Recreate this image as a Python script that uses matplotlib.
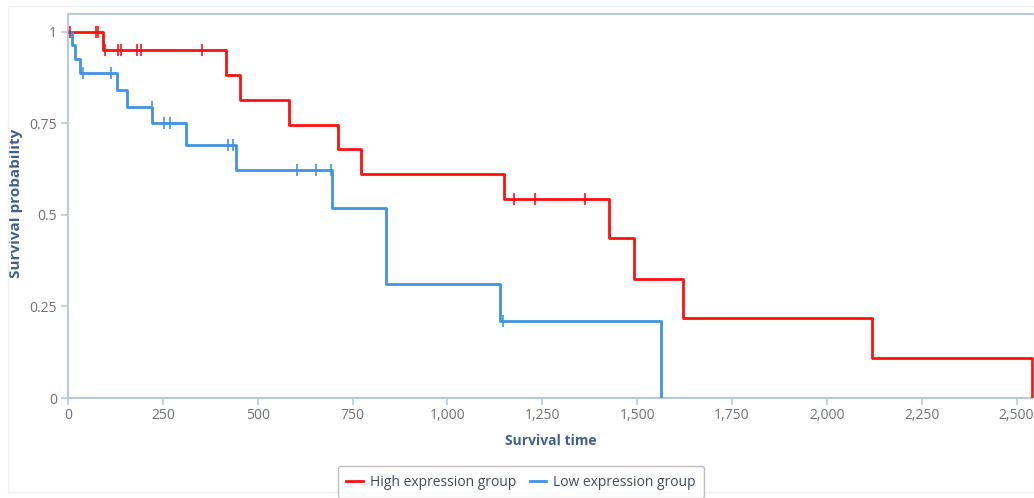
import numpy as np
import matplotlib
matplotlib.use("Agg")
import matplotlib.pyplot as plt
from matplotlib.ticker import FuncFormatter, FixedLocator
from matplotlib.patches import Rectangle

plt.rcParams['font.family'] = ['Open Sans', 'DejaVu Sans']

# ---- data ----
high_times = [0, 93, 416, 453, 582, 711, 772, 1150, 1425, 1491, 1620, 2118, 2540]
high_surv = [1.0, 0.951, 0.883, 0.814, 0.746, 0.680, 0.612, 0.544, 0.437, 0.325, 0.219, 0.109, 0.0]
high_censor = [5, 74, 80, 98, 132, 140, 182, 193, 354, 1175, 1232, 1362]

low_times = [0, 10, 18, 32, 128, 155, 222, 310, 442, 697, 838, 1138, 1562]
low_surv = [1.0, 0.963, 0.926, 0.889, 0.842, 0.795, 0.751, 0.691, 0.623, 0.52, 0.311, 0.21, 0.0]
low_censor = [39, 114, 221, 253, 269, 422, 435, 603, 653, 693, 1146]

x_ticks = [0, 250, 500, 750, 1000, 1250, 1500, 1750, 2000, 2250, 2500]
y_ticks = [0, 0.25, 0.5, 0.75, 1]
labels = ["High expression group", "Low expression group"]
colors = ["#ff1010", "#3f93e4"]

W, H = 1034, 498
fig = plt.figure(figsize=(W / 100, H / 100), dpi=100)
fig.patches.append(Rectangle((8 / W, 6 / H), (W - 8) / W, (H - 12) / H,
                             transform=fig.transFigure, fill=False,
                             edgecolor="#f0f0f0", linewidth=1))
ax = fig.add_axes([68 / W, 1 - 398 / H, (W - 68) / W, (398 - 14) / H])

def step_value(times, surv, t):
    i = np.searchsorted(times, t, side="right") - 1
    return surv[i]

handles = []
for times, surv, cens, col, lab in [(high_times, high_surv, high_censor, colors[0], labels[0]),
                                    (low_times, low_surv, low_censor, colors[1], labels[1])]:
    h, = ax.step(times, surv, where="post", color=col, linewidth=2, label=lab, zorder=3)
    handles.append(h)
    cy = [step_value(np.array(times), np.array(surv), t) for t in cens]
    ax.plot(cens, cy, linestyle="none", marker="|", markersize=8, markeredgewidth=1.2,
            color=col, zorder=4)

ax.set_xlim(0, 2546)
ax.set_ylim(0, 1.049)
ax.xaxis.set_major_locator(FixedLocator(x_ticks))
ax.yaxis.set_major_locator(FixedLocator(y_ticks))
ax.xaxis.set_major_formatter(FuncFormatter(lambda v, p: f"{int(v):,}"))
ax.yaxis.set_major_formatter(FuncFormatter(lambda v, p: f"{v:g}"))

spine_col = "#b7c9df"
for s in ["left", "bottom", "top"]:
    ax.spines[s].set_color(spine_col)
    ax.spines[s].set_linewidth(1.5)
ax.spines["right"].set_visible(False)
ax.tick_params(axis="both", colors=spine_col, length=5, width=1.2,
               labelcolor="#707070", labelsize=10)
ax.tick_params(axis="x", pad=2)
ax.tick_params(axis="y", pad=3)

ax.set_xlabel("Survival time", fontsize=10, fontweight="bold", color="#3e5f8a", labelpad=8)
ax.set_ylabel("Survival probability", fontsize=11, fontweight="bold", color="#3e5f8a")
ax.yaxis.set_label_coords(-45 / (W - 68), (398 - 203) / (398 - 14))

leg = fig.legend(handles=handles, labels=labels, loc="center",
                 bbox_to_anchor=(521 / W, 1 - 482 / H), ncol=2, frameon=True,
                 fontsize=10, handlelength=1.2, handletextpad=0.5, columnspacing=1.0,
                 borderpad=0.6, fancybox=True)
leg.get_frame().set_edgecolor("#b0b0b0")
leg.get_frame().set_linewidth(1)
for t in leg.get_texts():
    t.set_color("#404a5a")

fig.savefig("out.png", dpi=100)
